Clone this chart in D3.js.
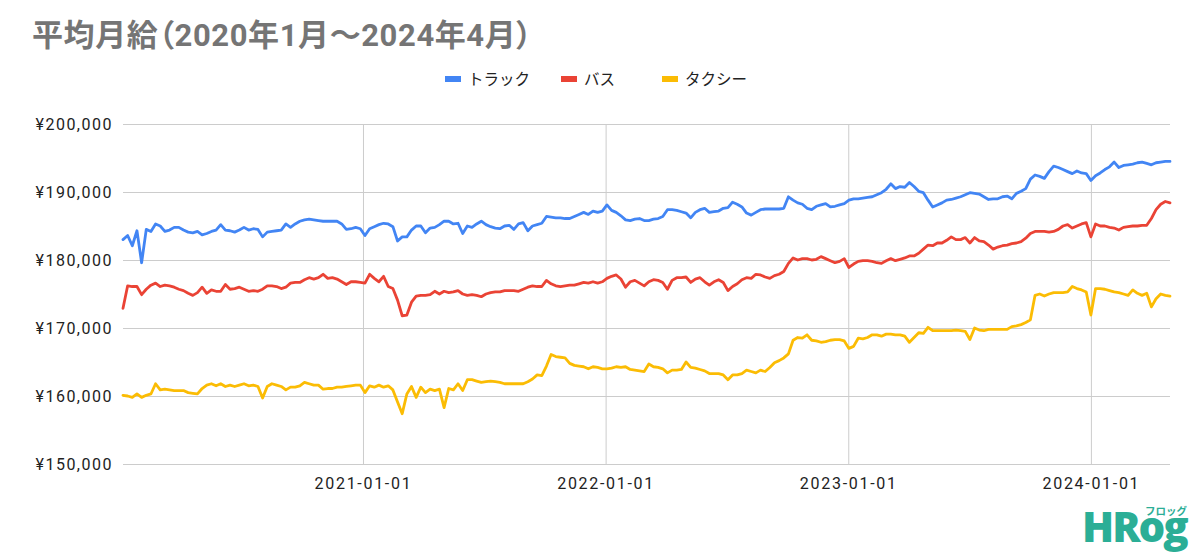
<!DOCTYPE html>
<html><head><meta charset="utf-8">
<script src="https://cdn.jsdelivr.net/npm/d3@7"></script>
<style>
html,body{margin:0;padding:0;background:#fff;}
svg{display:block;}
.palt{font-feature-settings:"palt" 1;}
</style></head>
<body>
<svg id="chart" width="1200" height="560"></svg>
<script>
// Weekly series (values in thousands of yen), first week starting 2020-01-06
const startDate = "2020-01-06";
const endDate = "2024-04-29";
const seriesNames = ["トラック", "バス", "タクシー"];
const truck = [
183.0,183.6,182.1,184.3,179.6,184.5,184.2,185.3,185.0,184.2,184.4,184.8,184.8,184.4,184.1,184.0,184.2,183.7,183.9,184.2,184.4,185.2,184.4,184.3,184.1,184.4,184.8,184.4,184.6,184.5,183.4,184.1,184.2,184.3,184.4,185.3,184.8,185.3,185.7,185.9,186.0,185.9,185.8,185.7,185.7,
185.7,185.7,185.3,184.5,184.6,184.8,184.6,183.6,184.6,184.9,185.2,185.4,185.3,184.9,182.8,183.4,183.4,184.4,185.0,185.0,184.0,184.7,184.8,185.2,185.7,185.7,185.3,185.4,183.9,185.0,184.8,185.3,185.7,185.2,184.9,184.7,184.6,185.0,185.1,184.5,185.3,185.5,184.3,185.0,185.2,
185.4,186.4,186.3,186.2,186.2,186.1,186.1,186.4,186.7,187.0,186.7,187.2,187.0,187.2,188.1,187.3,187.0,186.5,185.9,185.8,186.0,186.1,185.8,185.8,186.0,186.1,186.4,187.4,187.4,187.3,187.1,186.9,186.2,187.0,187.4,187.6,187.0,187.1,187.2,187.6,187.7,188.5,188.2,187.8,186.9,
186.6,187.0,187.4,187.5,187.5,187.5,187.5,187.6,189.3,188.8,188.4,188.2,187.6,187.4,187.9,188.1,188.3,187.8,187.9,188.1,188.3,188.8,189.0,189.0,189.1,189.2,189.3,189.6,189.9,190.4,191.2,190.5,190.8,190.7,191.4,190.8,190.1,189.9,188.8,187.8,188.1,188.4,188.8,188.9,189.1,
189.3,189.6,189.9,189.8,189.7,189.3,188.9,189.0,189.0,189.3,189.4,189.0,189.8,190.1,190.5,191.9,192.5,192.3,192.0,193.0,193.8,193.6,193.3,193.0,192.7,193.1,192.8,192.7,191.7,192.4,192.8,193.3,193.7,194.4,193.6,193.9,194.0,194.1,194.3,194.4,194.2,194.0,194.3,194.4,194.5,194.5
];
const bus = [
172.9,176.2,176.1,176.1,174.9,175.7,176.3,176.6,176.1,176.3,176.2,176.0,175.7,175.5,175.1,174.8,175.2,176.0,175.1,175.6,175.4,175.4,176.4,175.7,175.8,176.0,175.7,175.4,175.5,175.4,175.7,176.2,176.2,176.1,175.8,176.0,176.6,176.7,176.7,177.1,177.4,177.2,177.4,177.9,177.3,
177.4,177.2,176.8,176.4,176.8,176.8,176.7,176.6,177.9,177.3,176.8,177.6,176.1,175.8,174.1,171.8,171.9,173.8,174.7,174.8,174.8,174.9,175.4,175.0,175.4,175.2,175.3,175.5,175.0,174.8,174.9,174.8,174.6,175.0,175.2,175.3,175.3,175.5,175.5,175.5,175.4,175.7,176.0,176.2,176.1,
176.1,177.0,176.5,176.2,176.1,176.2,176.3,176.3,176.5,176.7,176.6,176.8,176.6,176.8,177.3,177.6,177.8,177.2,176.0,176.8,177.0,176.6,176.2,176.8,177.1,177.0,176.7,175.7,177.0,177.4,177.4,177.5,176.7,177.2,177.4,176.8,176.3,176.8,177.1,176.7,175.5,176.1,176.5,177.1,177.4,
177.3,177.9,177.8,177.5,177.3,177.7,177.9,178.3,179.5,180.3,180.0,180.2,180.2,180.0,180.1,180.5,180.2,179.9,179.6,179.8,180.2,178.9,179.4,179.8,179.9,179.9,179.8,179.6,179.5,179.9,180.2,179.9,180.1,180.3,180.6,180.6,181.0,181.6,182.2,182.1,182.5,182.5,182.9,183.4,183.0,
183.0,183.3,182.5,183.3,182.8,182.7,182.2,181.6,181.9,182.1,182.2,182.4,182.5,182.7,183.2,183.9,184.2,184.2,184.2,184.1,184.2,184.5,185.0,185.2,184.7,185.0,185.3,185.5,183.4,185.3,185.0,185.0,184.8,184.7,184.4,184.8,184.9,185.0,185.0,185.1,185.1,186.1,187.4,188.2,188.6,188.4
];
const taxi = [
160.1,160.0,159.8,160.3,159.8,160.1,160.3,161.8,160.9,161.0,160.9,160.8,160.8,160.8,160.5,160.4,160.3,161.1,161.6,161.8,161.5,161.8,161.4,161.6,161.4,161.6,161.8,161.5,161.6,161.4,159.7,161.4,161.8,161.6,161.4,160.9,161.3,161.3,161.5,162.0,161.8,161.6,161.6,161.0,161.1,
161.1,161.3,161.3,161.4,161.5,161.6,161.6,160.5,161.5,161.3,161.6,161.3,161.5,160.9,159.1,157.4,160.3,161.4,159.8,161.3,160.5,161.0,160.8,161.0,158.3,161.1,160.9,161.8,160.8,162.4,162.4,162.2,162.0,162.1,162.2,162.1,162.0,161.8,161.8,161.8,161.8,161.8,162.1,162.5,163.1,
163.0,164.4,166.1,165.8,165.7,165.6,164.8,164.5,164.4,164.3,164.0,164.3,164.2,164.0,164.0,164.1,164.3,164.2,164.3,163.9,163.8,163.7,163.6,164.7,164.3,164.2,164.0,163.4,163.8,163.8,163.9,165.0,164.2,164.1,163.9,163.7,163.3,163.3,163.3,163.1,162.4,163.1,163.1,163.3,163.8,
163.6,163.4,163.8,163.6,164.2,164.9,165.2,165.6,166.2,168.2,168.6,168.5,169.0,168.2,168.1,167.9,168.0,168.2,168.3,168.3,168.1,167.0,167.3,168.5,168.4,168.6,169.0,169.0,168.8,169.1,169.1,169.0,169.0,168.8,167.9,168.6,169.3,169.2,170.1,169.6,169.6,169.6,169.6,169.6,169.7,
169.6,169.5,168.3,170.0,169.7,169.6,169.8,169.8,169.8,169.8,169.8,170.2,170.3,170.5,170.8,171.2,174.8,175.0,174.7,175.0,175.2,175.2,175.2,175.3,176.1,175.8,175.6,175.3,171.9,175.8,175.8,175.7,175.5,175.3,175.2,175.0,174.8,175.6,175.1,174.8,175.1,173.1,174.3,175.0,174.8,174.7
];
const yTicks = [150, 160, 170, 180, 190, 200]; // thousands of yen
const xTicks = ["2021-01-01", "2022-01-01", "2023-01-01", "2024-01-01"];
const colors = ["#4285F4", "#EA4335", "#FBBC04"];
const titleText = "平均月給（2020年1月～2024年4月）";

const parse = d3.timeParse("%Y-%m-%d");
const dates = d3.timeMonday.range(parse(startDate), d3.timeDay.offset(parse(endDate), 1));
const seriesList = [truck, bus, taxi];

const svg = d3.select("#chart");
const M = {left: 123, right: 1170, top: 124, bottom: 464};
const x = d3.scaleTime().domain([parse(startDate), parse(endDate)]).range([M.left, M.right]);
const y = d3.scaleLinear().domain([150, 200]).range([M.bottom, M.top]);

const FONT = "Roboto, 'Liberation Sans', Arial, 'Noto Sans CJK JP', sans-serif";

// title
svg.append("text").attr("class", "palt").attr("x", 32).attr("y", 46)
  .attr("font-family", "Roboto, 'Noto Sans CJK JP', sans-serif")
  .attr("font-size", 31).attr("font-weight", 700).attr("fill", "#757575")
  .attr("letter-spacing", 0.6)
  .text(titleText);

// horizontal grid + y labels
const yAxis = d3.axisLeft(y).tickValues(yTicks).tickSize(-(M.right - M.left))
  .tickFormat(v => "¥" + d3.format(",")(v * 1000)).tickPadding(10);
const gy = svg.append("g").attr("transform", `translate(${M.left},0)`).call(yAxis);
gy.select(".domain").remove();
gy.selectAll(".tick line").attr("stroke", "#cccccc").attr("stroke-width", 1);
gy.selectAll(".tick text").attr("font-family", FONT).attr("font-size", 16)
  .attr("fill", "#222").attr("letter-spacing", 1.5);

// vertical grid + x labels
const xAxis = d3.axisBottom(x).tickValues(xTicks.map(parse)).tickSize(-(M.bottom - M.top))
  .tickFormat(d3.timeFormat("%Y-%m-%d")).tickPadding(14);
const gx = svg.append("g").attr("transform", `translate(0,${M.bottom})`).call(xAxis);
gx.select(".domain").remove();
gx.selectAll(".tick line").attr("stroke", "#cccccc").attr("stroke-width", 1);
gx.selectAll(".tick text").attr("font-family", FONT).attr("font-size", 16)
  .attr("fill", "#222").attr("letter-spacing", 1.7);

// lines
const line = d3.line().x((d, i) => x(dates[i])).y(d => y(d));
seriesList.forEach((s, k) => {
  svg.append("path").datum(s).attr("d", line).attr("fill", "none")
    .attr("stroke", colors[k]).attr("stroke-width", 2.8)
    .attr("stroke-linejoin", "round").attr("stroke-linecap", "round");
});

// legend
const legendX = [445, 561, 662];
const lg = svg.append("g");
seriesNames.forEach((n, k) => {
  lg.append("rect").attr("x", legendX[k]).attr("y", 76).attr("width", 16).attr("height", 6)
    .attr("fill", colors[k]);
  lg.append("text").attr("x", legendX[k] + 23).attr("y", 85)
    .attr("font-family", "'Noto Sans CJK JP', sans-serif").attr("font-size", 15.5)
    .attr("fill", "#222").text(n);
});

// logo
svg.append("text").attr("x", 1082).attr("y", 542)
  .attr("font-family", "'Open Sans', 'Liberation Sans', sans-serif").attr("font-size", 42)
  .attr("font-weight", 800).attr("fill", "#2BAE96").attr("letter-spacing", -2).text("HRog");
svg.append("text").attr("x", 1145).attr("y", 515)
  .attr("font-family", "'Noto Sans CJK JP', sans-serif").attr("font-size", 10.5)
  .attr("font-weight", 700).attr("fill", "#2BAE96").text("フロッグ");
</script>
</body></html>
